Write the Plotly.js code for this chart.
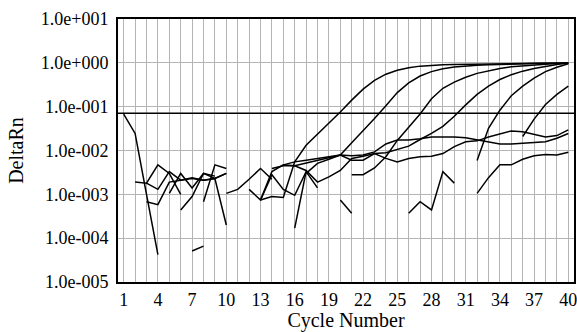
<!DOCTYPE html>
<html>
<head>
<meta charset="utf-8">
<script src="https://cdn.plot.ly/plotly-3.0.1.min.js"></script>
<style>html,body{margin:0;padding:0;background:#fff;}#chart{width:577px;height:332px;}</style>
</head>
<body>
<div id="chart"></div>
<script>
// Cycle numbers 1..40
const cycles = [1,2,3,4,5,6,7,8,9,10,11,12,13,14,15,16,17,18,19,20,21,22,23,24,25,26,27,28,29,30,31,32,33,34,35,36,37,38,39,40];
const n = null;
// DeltaRn per well (index 0 = cycle 1); null = not drawn (value <= 0)
const wellT1 = [0.068,0.0245,0.001,0.000042,n,n,n,n,n,n,n,n,n,n,n,n,n,n,n,n,n,n,n,n,n,n,n,n,n,n,n,n,n,n,n,n,n,n,n,n];
const wellT2 = [n,0.0019,0.0018,0.0047,0.003,0.001,n,n,n,n,n,n,n,n,n,n,n,n,n,n,n,n,n,n,n,n,n,n,n,n,n,n,n,n,n,n,n,n,n,n];
const wellT3 = [n,n,0.0018,0.0013,0.0033,0.0021,0.0024,0.0021,0.0023,0.003,n,n,n,n,n,n,n,n,n,n,n,n,n,n,n,n,n,n,n,n,n,n,n,n,n,n,n,n,n,n];
const wellT4 = [n,n,0.00068,0.00058,0.0019,0.0021,0.0023,0.0021,0.0023,0.0002,n,n,n,n,n,n,n,n,n,n,n,n,n,n,n,n,n,n,n,n,n,n,n,n,n,n,n,n,n,n];
const wellT5 = [n,n,n,n,0.00105,0.003,0.0014,0.003,0.0026,n,n,n,n,n,n,n,n,n,n,n,n,n,n,n,n,n,n,n,n,n,n,n,n,n,n,n,n,n,n,n];
const wellT6 = [n,n,n,n,n,0.00044,0.00089,0.003,0.0023,0.003,n,n,n,n,n,n,n,n,n,n,n,n,n,n,n,n,n,n,n,n,n,n,n,n,n,n,n,n,n,n];
const wellT7 = [n,n,n,n,n,n,n,0.00068,0.0047,0.0039,n,n,n,n,n,n,n,n,n,n,n,n,n,n,n,n,n,n,n,n,n,n,n,n,n,n,n,n,n,n];
const wellT8 = [n,n,n,n,n,n,0.000051,0.000066,n,n,n,n,n,n,n,n,n,n,n,n,n,n,n,n,n,n,n,n,n,n,n,n,n,n,n,n,n,n,n,n];
const wellT9 = [n,n,n,n,n,n,n,n,n,0.00105,0.0013,0.0022,0.0039,0.0022,n,n,n,n,n,n,n,n,n,n,n,n,n,n,n,n,n,n,n,n,n,n,n,n,n,n];
const wellZ  = [n,n,n,n,n,n,n,n,n,n,n,n,0.00074,0.0028,0.0013,0.00095,0.0033,0.0014,n,n,n,n,n,n,n,n,n,n,n,n,n,n,n,n,n,n,n,n,n,n];
const wellS3 = [n,n,n,n,n,n,n,n,n,n,n,n,n,n,n,0.00017,0.0033,n,n,n,n,n,n,n,n,n,n,n,n,n,n,n,n,n,n,n,n,n,n,n];
const wellA  = [n,n,n,n,n,n,n,n,n,n,n,n,0.00074,0.00089,0.00085,0.0055,0.0132,0.0234,0.0417,0.0759,0.141,0.251,0.398,0.55,0.676,0.776,0.841,0.881,0.902,0.916,0.929,0.938,0.946,0.955,0.962,0.968,0.975,0.979,0.984,0.989];
const wellB  = [n,n,n,n,n,n,n,n,n,n,n,0.0013,0.00074,0.0033,0.0047,0.0045,0.0052,0.0058,0.0068,0.0079,0.0151,0.0282,0.0537,0.105,0.209,0.347,0.501,0.631,0.733,0.804,0.851,0.881,0.902,0.923,0.938,0.951,0.964,0.973,0.982,0.989];
const wellC  = [n,n,n,n,n,n,n,n,n,n,n,n,n,n,n,n,n,n,n,n,0.0028,0.0028,0.004,0.0072,0.017,0.034,0.068,0.151,0.263,0.363,0.468,0.575,0.661,0.741,0.813,0.861,0.902,0.933,0.962,0.989];
const wellD  = [n,n,n,n,n,n,n,n,n,n,n,n,n,0.0039,0.0045,0.0045,0.0035,0.0019,0.0025,0.0035,0.0066,0.0074,0.0085,0.0089,0.0105,0.0126,0.0178,0.0245,0.0355,0.0603,0.11,0.19,0.295,0.417,0.537,0.646,0.741,0.832,0.912,0.989];
const wellE  = [n,n,n,n,n,n,n,n,n,n,n,n,n,n,n,n,n,n,n,n,n,n,n,n,n,n,n,n,n,n,n,0.0059,0.032,0.083,0.178,0.295,0.447,0.631,0.794,0.955];
const wellF  = [n,n,n,n,n,n,n,n,n,n,n,n,n,n,n,n,n,n,n,n,n,n,n,n,n,n,n,n,n,n,n,n,n,n,n,0.0209,0.052,0.112,0.191,0.295];
const wellG  = [n,n,n,n,n,n,n,n,n,n,n,n,n,n,n,n,n,n,n,n,n,n,n,n,n,n,n,n,n,n,n,0.00105,0.0024,0.0047,0.0047,0.0063,0.0076,0.0081,0.0079,0.0091];
const wellP  = [n,n,n,n,n,n,n,n,n,n,n,n,n,n,0.0047,0.0055,0.006,0.0065,0.0071,0.0079,0.0076,0.0079,0.0093,0.0141,0.0174,0.0174,0.0186,0.0204,0.0204,0.0204,0.0195,0.0174,0.0158,0.0141,0.0141,0.0145,0.0151,0.0158,0.019,0.0245];
const wellQ  = [n,n,n,n,n,n,n,n,n,n,n,n,n,n,n,n,0.003,0.0051,0.0063,0.0079,0.006,0.006,0.0085,0.0066,0.0055,0.0066,0.0072,0.0074,0.0085,0.0123,0.0158,0.0166,0.0204,0.024,0.028,0.0269,0.0234,0.0204,0.0219,0.0295];
const wellS1 = [n,n,n,n,n,n,n,n,n,n,n,n,n,n,n,n,n,n,n,0.00074,0.00037,n,n,n,n,n,n,n,n,n,n,n,n,n,n,n,n,n,n,n];
const wellS2 = [n,n,n,n,n,n,n,n,n,n,n,n,n,n,n,n,n,n,n,n,n,n,n,n,n,0.00037,0.00068,0.00044,0.0033,0.0018,n,n,n,n,n,n,n,n,n,n];

const threshold = 0.071;
const thresholdX = [0.5, 40.5];

const xTickVals = cycles;
const xTickText = cycles.map(c => ((c - 1) % 3 === 0) ? String(c) : '');
const yTickVals = [1e-5, 1e-4, 1e-3, 1e-2, 1e-1, 1, 10];
const yTickText = ['1.0e-005','1.0e-004','1.0e-003','1.0e-002','1.0e-001','1.0e+000','1.0e+001'];

const wells = [wellT1,wellT2,wellT3,wellT4,wellT5,wellT6,wellT7,wellT8,wellT9,wellZ,wellS3,wellA,wellB,wellC,wellD,wellE,wellF,wellG,wellP,wellQ,wellS1,wellS2];

const traces = wells.map(w => ({
  x: cycles, y: w, type: 'scatter', mode: 'lines',
  line: {color: '#000', width: 1.5}, connectgaps: false, hoverinfo: 'skip'
}));
traces.push({x: thresholdX, y: [threshold, threshold], type: 'scatter', mode: 'lines',
  line: {color: '#000', width: 1.5}, hoverinfo: 'skip'});

const FAM = 'Liberation Serif, Times New Roman, serif';

const layout = {
  width: 577, height: 332,
  margin: {l: 118, r: 3, t: 19, b: 50},
  paper_bgcolor: '#fff', plot_bgcolor: '#fff',
  showlegend: false,
  font: {family: FAM, size: 18, color: '#000'},
  xaxis: {
    type: 'linear', range: [0.5, 40.5],
    tickvals: xTickVals, ticktext: xTickText,
    ticks: '', showgrid: true, gridcolor: '#b4b4b4', gridwidth: 1,
    showline: true, linecolor: '#000', linewidth: 2, mirror: true,
    zeroline: false, ticklabeloverflow: 'allow',
    tickfont: {family: FAM, size: 18, color: '#000'},
    title: {text: 'Cycle Number', font: {family: FAM, size: 20, color: '#000'}, standoff: 6}
  },
  yaxis: {
    type: 'log', range: [-5, 1],
    tickvals: yTickVals, ticktext: yTickText,
    ticks: '', showgrid: true, gridcolor: '#b4b4b4', gridwidth: 1,
    showline: true, linecolor: '#000', linewidth: 2, mirror: true,
    zeroline: false,
    tickfont: {family: FAM, size: 18, color: '#000'},
    ticklabelstandoff: 4,
    title: {text: 'DeltaRn', font: {family: FAM, size: 20, color: '#000'}, standoff: 12}
  }
};

Plotly.newPlot('chart', traces, layout, {staticPlot: true, displayModeBar: false});
</script>
</body>
</html>
